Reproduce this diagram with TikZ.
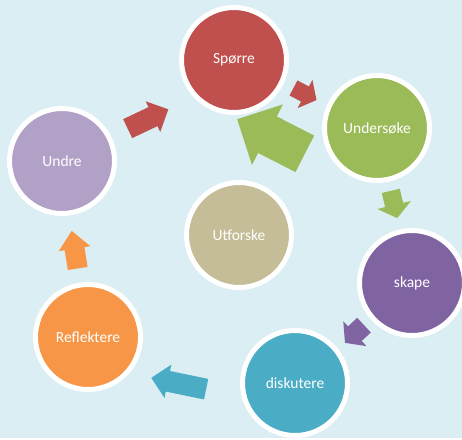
\documentclass[tikz,border=0pt]{standalone}
\usepackage{fontspec}
\setmainfont{Carlito}

\definecolor{bgblue}{HTML}{DAEEF3}
\definecolor{sred}{HTML}{C0504D}
\definecolor{sgreen}{HTML}{9BBB59}
\definecolor{slilac}{HTML}{B2A1C7}
\definecolor{ssand}{HTML}{C4BD97}
\definecolor{spurple}{HTML}{8064A2}
\definecolor{sorange}{HTML}{F79646}
\definecolor{sblue}{HTML}{4BACC6}

\tikzset{
    stage/.style={circle, fill=#1, draw=white, line width=5pt, minimum size=105pt,
        inner sep=0pt, text=white, font=\fontsize{15.5}{18}\selectfont},
    % length, shaft width, head width, head length
    pics/blockarrow/.style n args={4}{code={
        \fill ({-#1/2},{-#2/2}) -- ({#1/2-#4},{-#2/2}) -- ({#1/2-#4},{-#3/2})
            -- ({#1/2},0) -- ({#1/2-#4},{#3/2}) -- ({#1/2-#4},{#2/2})
            -- ({-#1/2},{#2/2}) -- cycle;
    }}
}

\begin{document}
\begin{tikzpicture}[x=1pt,y=-1pt]
    \useasboundingbox (0,0) rectangle (462,439);
    \clip (0,0) rectangle (462,439);
    \fill[bgblue] (0,0) rectangle (462,438);

    % arrows
    \pic[sred, rotate=25.4] (a-undre) at (148,119) {blockarrow={45}{21}{34}{17}};
    \pic[sred, rotate=-27.7] (a-spoerre) at (305,94) {blockarrow={26}{17}{32}{13}};
    \pic[sgreen, rotate=152.9] (a-big) at (271,136.5) {blockarrow={76}{41}{68}{34}};
    \pic[sgreen, rotate=-76.7] (a-undersoeke) at (394,204.5) {blockarrow={28}{18.5}{34.5}{13.5}};
    \pic[spurple, rotate=223] (a-skape) at (354.5,334) {blockarrow={26}{20}{34}{13.5}};
    \pic[sblue, rotate=168.3] (a-diskutere) at (178.7,383.5) {blockarrow={56}{21}{34}{17}};
    \pic[sorange, rotate=99.1] (a-reflektere) at (74.7,249.7) {blockarrow={38}{20}{32}{18}};

    % stages
    \node[stage=sred] (spoerre) at (234,60) {Spørre};
    \node[stage=sgreen] (undersoeke) at (377,128) {Undersøke};
    \node[stage=slilac] (undre) at (62,161) {Undre};
    \node[stage=ssand] (utforske) at (239,235) {Utforske};
    \node[stage=spurple] (skape) at (412,283) {skape};
    \node[stage=sorange] (reflektere) at (88,337) {Reflektere};
    \node[stage=sblue] (diskutere) at (295,383) {diskutere};
\end{tikzpicture}
\end{document}
